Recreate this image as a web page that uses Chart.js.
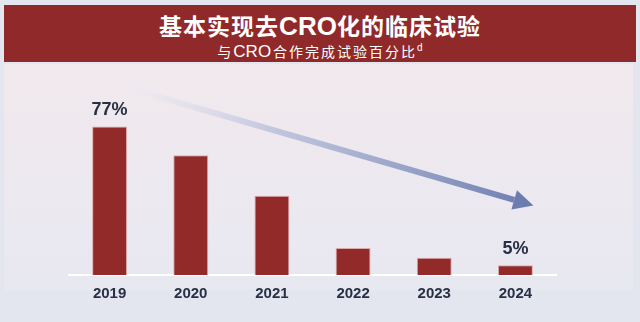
<!DOCTYPE html>
<html>
<head>
<meta charset="utf-8">
<script src="https://cdn.jsdelivr.net/npm/chart.js@4"></script>
<style>
  html, body { margin: 0; padding: 0; width: 640px; height: 322px; overflow: hidden; background: #e4e6ef; }
  #panel { position: absolute; left: 4px; top: 64px; width: 629px; height: 226px;
           background: linear-gradient(#f1e9ed, #e8e8f1); }
  #header { position: absolute; left: 4px; top: 5px; width: 632px; height: 57px; background: #902a2a;
            color: #fff; text-align: center; font-family: "Liberation Sans", "Noto Sans CJK SC", sans-serif; }
  #title { position: absolute; left: 0; right: 0; top: 6px; font-size: 23px; font-weight: bold;
           line-height: 30px; letter-spacing: 1px; white-space: nowrap; }
  #title span { font-size: 26px; letter-spacing: 0; }
  #subtitle { position: absolute; left: 0; right: 0; top: 33px; font-size: 14px; line-height: 20px;
              letter-spacing: 2px; white-space: nowrap; }
  #subtitle span { font-size: 17px; letter-spacing: 0; margin-right: 2px; }
  #subtitle sup { font-size: 10px; vertical-align: 6px; letter-spacing: 0; }
  #wrap { position: absolute; left: 0; top: 0; width: 640px; height: 322px; }
</style>
</head>
<body>
<div id="panel"></div>
<div id="header">
  <div id="title">基本实现去<span>CRO</span>化的临床试验</div>
  <div id="subtitle">与<span>CRO</span>合作完成试验百分比<sup>d</sup></div>
</div>
<div id="wrap"><canvas id="chart" width="640" height="322"></canvas></div>
<script>
// years and share of trials done with a CRO (%)
const years = ['2019', '2020', '2021', '2022', '2023', '2024'];
const croShare = [77, 62, 41, 14, 9, 5];
const shownLabels = ['77%', '', '', '', '', '5%'];

// trend arrow drawn over the bars
const trendArrow = {
    id: 'trendArrow',
    afterDatasetsDraw(chart) {
        const { ctx, scales: { x, y } } = chart;
        const x0 = x.getPixelForValue(0) + 18, y0 = y.getPixelForValue(97);
        const x1 = x.getPixelForValue(5) + 18, y1 = y.getPixelForValue(36);
        const ang = Math.atan2(y1 - y0, x1 - x0);
        const headLen = 20, headW = 10;
        const bx = x1 - headLen * Math.cos(ang), by = y1 - headLen * Math.sin(ang);
        const grad = ctx.createLinearGradient(x0, y0, x1, y1);
        grad.addColorStop(0, 'rgba(240,236,244,0.4)');
        grad.addColorStop(0.35, 'rgba(190,196,220,0.9)');
        grad.addColorStop(1, 'rgba(108,124,176,1)');
        ctx.save();
        ctx.strokeStyle = grad;
        ctx.lineWidth = 6;
        ctx.beginPath();
        ctx.moveTo(x0, y0);
        ctx.lineTo(bx, by);
        ctx.stroke();
        ctx.fillStyle = 'rgb(108,124,176)';
        ctx.beginPath();
        ctx.moveTo(x1, y1);
        ctx.lineTo(bx + headW * Math.sin(ang), by - headW * Math.cos(ang));
        ctx.lineTo(bx - headW * Math.sin(ang), by + headW * Math.cos(ang));
        ctx.closePath();
        ctx.fill();
        ctx.restore();
    }
};

// value labels above first and last bar
const barLabels = {
    id: 'barLabels',
    afterDatasetsDraw(chart) {
        const { ctx } = chart;
        const meta = chart.getDatasetMeta(0);
        ctx.save();
        ctx.font = 'bold 18px "Liberation Sans", Arial, sans-serif';
        ctx.fillStyle = '#273045';
        ctx.textAlign = 'center';
        ctx.textBaseline = 'bottom';
        meta.data.forEach((bar, i) => {
            if (shownLabels[i]) ctx.fillText(shownLabels[i], bar.x, bar.y - 7);
        });
        ctx.restore();
    }
};

new Chart(document.getElementById('chart'), {
    type: 'bar',
    data: {
        labels: years,
        datasets: [{
            data: croShare,
            backgroundColor: '#922a2a',
            borderColor: 'rgba(214,140,140,0.7)',
            borderWidth: 1,
            barPercentage: 0.43,
            categoryPercentage: 1
        }]
    },
    options: {
        responsive: false,
        animation: false,
        layout: { padding: { left: 69, right: 84, top: 82, bottom: 9 } },
        plugins: { legend: { display: false }, tooltip: { enabled: false } },
        scales: {
            x: {
                grid: { display: false, drawTicks: false },
                border: { display: true, color: '#ffffff', width: 2 },
                ticks: { color: '#273045', padding: 10, font: { family: '"Liberation Sans", Arial, sans-serif', size: 15, weight: 'bold' } }
            },
            y: { display: false, min: 0, max: 100 }
        }
    },
    plugins: [trendArrow, barLabels]
});
</script>
</body>
</html>
